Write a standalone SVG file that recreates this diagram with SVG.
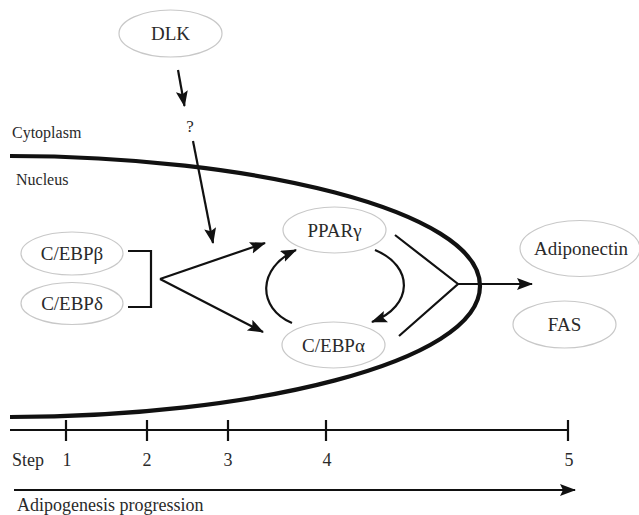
<svg xmlns="http://www.w3.org/2000/svg" width="639" height="515" viewBox="0 0 639 515">
<style>
.node ellipse{fill:#fff;stroke:#c8c8c8;stroke-width:1.2}
.node text{font-family:"Liberation Serif",serif;font-size:19px;fill:#2a2a2a;text-anchor:middle}
.lbl{font-family:"Liberation Serif",serif;fill:#2a2a2a}
.ln{fill:none;stroke:#111;stroke-width:2.2}
.arr{fill:none;stroke:#111;stroke-width:2.2;marker-end:url(#ah)}
</style>
<defs>
<marker id="ah" markerUnits="userSpaceOnUse" markerWidth="18" markerHeight="14" refX="15" refY="6" orient="auto">
<path d="M0,0 L16,6 L0,12 L3,6 z" fill="#111"/>
</marker>
</defs>
<rect width="639" height="515" fill="#fff"/>
<path d="M10,156 C250,156 480,210 480,286 C480,363 250,417 10,417" fill="none" stroke="#111" stroke-width="4.2"/>
<text class="lbl" x="12" y="138" font-size="16">Cytoplasm</text>
<text class="lbl" x="16" y="185" font-size="16">Nucleus</text>
<text class="lbl" x="190" y="132" font-size="17" text-anchor="middle">?</text>
<g id="dlk" class="node"><ellipse cx="170.5" cy="33.5" rx="51.5" ry="23.5"/><text x="170.5" y="40">DLK</text></g>
<g id="cebpb" class="node"><ellipse cx="72" cy="253.5" rx="51" ry="21.5"/><text x="72" y="260">C/EBPβ</text></g>
<g id="cebpd" class="node"><ellipse cx="72" cy="303.5" rx="51" ry="21"/><text x="72" y="310">C/EBPδ</text></g>
<g id="ppar" class="node"><ellipse cx="334.5" cy="230" rx="51.5" ry="23"/><text x="334.5" y="236.5">PPARγ</text></g>
<g id="cebpa" class="node"><ellipse cx="333.5" cy="345" rx="51.5" ry="23"/><text x="333.5" y="351.5">C/EBPα</text></g>
<g id="adipo" class="node"><ellipse cx="580" cy="248.5" rx="60" ry="28"/><text x="581" y="255">Adiponectin</text></g>
<g id="fas" class="node"><ellipse cx="564.5" cy="324.5" rx="51.5" ry="23.5"/><text x="564.5" y="331">FAS</text></g>
<g id="connectors">
<path class="arr" d="M178,70 L184.5,106"/>
<path class="arr" d="M193,141 L213,243"/>
<path class="ln" d="M128,251 H151 V307 H128"/>
<path class="arr" d="M160,279 L265,243"/>
<path class="arr" d="M160,279 L263,332"/>
<path class="arr" d="M292,323 C257,308 257,268 296,250"/>
<path class="arr" d="M375,250 C414,266 414,306 372,322"/>
<path class="ln" d="M395,235 L458,284 L399,336"/>
<path class="arr" d="M458,284 L532,284"/>
</g>
<g id="timeline">
<path class="ln" d="M10,430 H568"/>
<path class="ln" d="M66,420 V441 M147,420 V441 M228,420 V441 M326,420 V441 M568,420 V441"/>
<g class="lbl" font-size="18" text-anchor="middle">
<text x="28" y="466">Step</text>
<text x="67" y="466">1</text>
<text x="147" y="466">2</text>
<text x="228" y="466">3</text>
<text x="327" y="466">4</text>
<text x="569" y="466">5</text>
</g>
<path class="arr" d="M14,490 L575,490"/>
<text class="lbl" x="17" y="511" font-size="18">Adipogenesis progression</text>
</g>
</svg>
